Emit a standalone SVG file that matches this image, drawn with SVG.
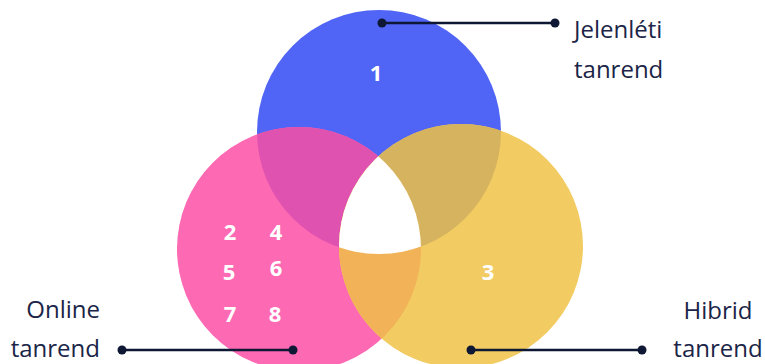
<svg xmlns="http://www.w3.org/2000/svg" width="765" height="364" viewBox="0 0 765 364">
<style>
.lbl{font-family:"Open Sans","Noto Sans",sans-serif;font-size:24px;fill:#1B2547}
.num{font-family:"Open Sans","Noto Sans",sans-serif;font-size:22px;font-weight:bold;fill:#ffffff;text-anchor:middle}
.ln{stroke:#0E1733;stroke-width:2.5;fill:none}
.dot{fill:#0E1733}
</style>
<defs>
<clipPath id="cA"><circle cx="379" cy="132" r="122"/></clipPath>
<clipPath id="cB"><circle cx="299" cy="249" r="122"/></clipPath>
<clipPath id="cC"><circle cx="461" cy="246" r="122"/></clipPath>
</defs>
<g id="venn">
<circle id="blue" cx="379" cy="132" r="122" fill="#5064F5"/>
<circle id="pink" cx="299" cy="249" r="122" fill="#FD69B3"/>
<circle id="yellow" cx="461" cy="246" r="122" fill="#F2CC62"/>
<circle cx="379" cy="132" r="122" fill="#DF52B0" clip-path="url(#cB)"/>
<circle cx="379" cy="132" r="122" fill="#D6B35F" clip-path="url(#cC)"/>
<circle cx="299" cy="249" r="122" fill="#F2B358" clip-path="url(#cC)"/>
<g clip-path="url(#cC)"><circle cx="379" cy="132" r="122" fill="#ffffff" clip-path="url(#cB)"/></g>
</g>
<g id="numbers">
<text class="num" x="376" y="81">1</text>
<text class="num" x="230" y="240">2</text>
<text class="num" x="276" y="240">4</text>
<text class="num" x="229" y="280">5</text>
<text class="num" x="276" y="276">6</text>
<text class="num" x="230" y="322">7</text>
<text class="num" x="275" y="322">8</text>
<text class="num" x="488" y="280">3</text>
</g>
<g id="connectors">
<line class="ln" x1="382" y1="23" x2="555" y2="23"/>
<circle class="dot" cx="382" cy="23" r="4.5"/>
<circle class="dot" cx="555" cy="23" r="4.5"/>
<line class="ln" x1="122" y1="350" x2="293" y2="350"/>
<circle class="dot" cx="122" cy="350" r="4.5"/>
<circle class="dot" cx="293" cy="350" r="4.5"/>
<line class="ln" x1="471" y1="350" x2="642" y2="350"/>
<circle class="dot" cx="471" cy="350" r="4.5"/>
<circle class="dot" cx="642" cy="350" r="4.5"/>
</g>
<g id="label-jelenleti">
<text class="lbl" x="574" y="38">Jelenléti</text>
<text class="lbl" x="574" y="78">tanrend</text>
</g>
<g id="label-online">
<text class="lbl" x="100" y="318" text-anchor="end">Online</text>
<text class="lbl" x="100" y="357" text-anchor="end">tanrend</text>
</g>
<g id="label-hibrid">
<text class="lbl" x="718" y="319" text-anchor="middle">Hibrid</text>
<text class="lbl" x="718" y="357" text-anchor="middle">tanrend</text>
</g>
</svg>
